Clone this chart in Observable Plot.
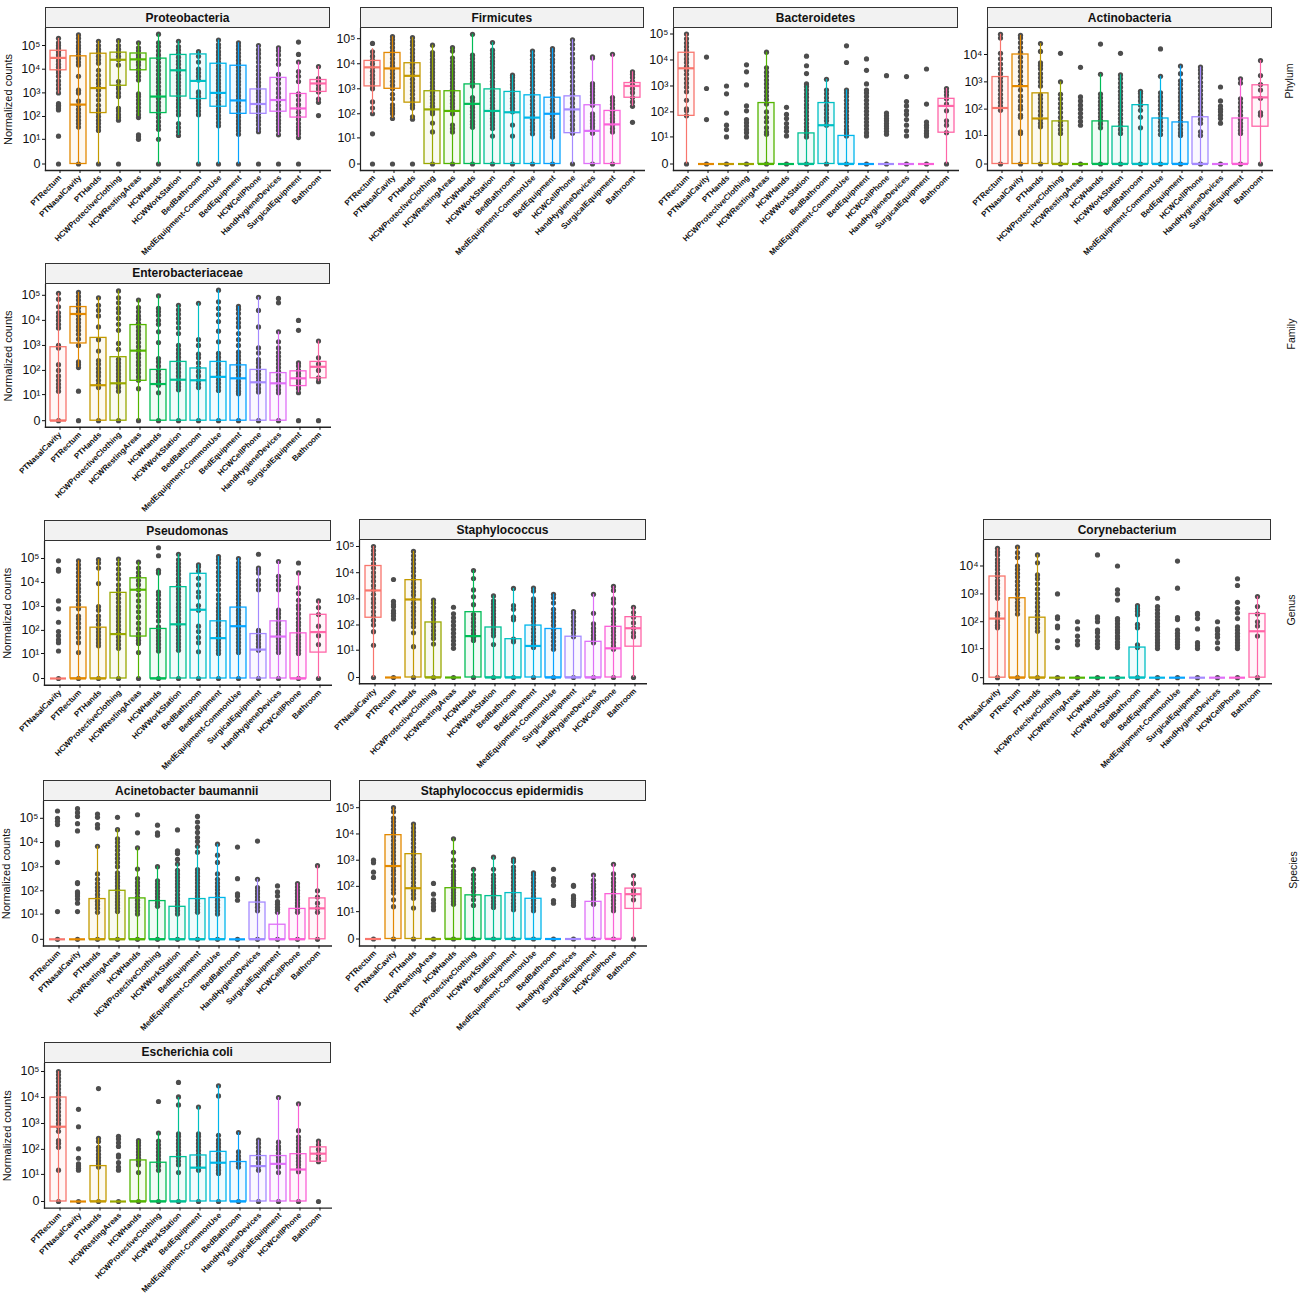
<!DOCTYPE html>
<html>
<head>
<meta charset="utf-8">
<script src="https://cdn.jsdelivr.net/npm/d3@7"></script>
<script src="https://cdn.jsdelivr.net/npm/@observablehq/plot@0.6"></script>
<style>
body { margin: 0; background: #fff; font-family: "Liberation Sans", sans-serif; }
#page { position: relative; width: 1300px; height: 1297px; overflow: hidden; }
.strip { position: absolute; box-sizing: border-box; background: #f2f2f2; border: 1px solid #333; font-weight: bold; font-size: 12px; color: #111; text-align: center; }
.rowlabel { position: absolute; transform: translate(-50%, -50%) rotate(-90deg); font-size: 10.5px; color: #111; }
#page svg { position: absolute; }
</style>
</head>
<body>
<div id="page"></div>
<script>
// sample types, in the three orders used across the panels
const orderPhylum = ["PTRectum","PTNasalCavity","PTHands","HCWProtectiveClothing","HCWRestingAreas","HCWHands","HCWWorkStation","BedBathroom","MedEquipment-CommonUse","BedEquipment","HCWCellPhone","HandHygieneDevices","SurgicalEquipment","Bathroom"];
const orderFamily = ["PTNasalCavity","PTRectum","PTHands","HCWProtectiveClothing","HCWRestingAreas","HCWHands","HCWWorkStation","BedBathroom","MedEquipment-CommonUse","BedEquipment","HCWCellPhone","HandHygieneDevices","SurgicalEquipment","Bathroom"];
const orderPseudomonas = ["PTNasalCavity","PTRectum","PTHands","HCWProtectiveClothing","HCWRestingAreas","HCWHands","HCWWorkStation","BedBathroom","BedEquipment","MedEquipment-CommonUse","SurgicalEquipment","HandHygieneDevices","HCWCellPhone","Bathroom"];
const orderAcinetobacter = ["PTRectum","PTNasalCavity","PTHands","HCWRestingAreas","HCWHands","HCWProtectiveClothing","HCWWorkStation","BedEquipment","MedEquipment-CommonUse","BedBathroom","HandHygieneDevices","SurgicalEquipment","HCWCellPhone","Bathroom"];

const hueColors = ["#F8766D","#E38900","#C49A00","#99A800","#53B400","#00BC56","#00C094","#00BFC4","#00B6EB","#06A4FF","#A58AFF","#DF70F8","#FB61D7","#FF66A8"];

const yTicks = [0,10,100,1000,10000,100000];
const yTickLabels = ["0","10¹","10²","10³","10⁴","10⁵"];

// Proteobacteria
const protLow = [900,0,0,70,100,0,15,0,0,0,20,15,12,400];
const protQ1 = [9000,0,140,2000,9000,140,700,550,260,130,130,160,90,1100];
const protMed = [30000,320,1600,25000,26000,700,9000,3200,1000,480,340,500,220,2500];
const protQ3 = [60000,35000,45000,50000,46000,28000,40000,42000,17000,14000,1400,4300,900,3500];
const protHigh = [200000,280000,150000,160000,130000,300000,150000,55000,170000,130000,100000,80000,20000,13000];
const protPoints = [
  [0,14,190,220,260,300,350,1000,1500,2200,3200,5000,7000,9000,12000,16000,22000,30000,40000,55000,75000,100000,130000,200000],
  [0,35,50,70,100,140,200,300,450,1000,1300,5000,15000,20000,28000,38000,55000,75000,100000,140000,200000,280000],
  [0,25,35,50,70,100,140,190,300,500,800,1300,1700,2500,3500,5500,9000,18000,25000,35000,50000,70000,100000,150000],
  [0,70,90,120,170,220,700,1000,1500,2000,3000,15000,25000,35000,50000,70000,100000,160000],
  [10,13,16,90,120,170,240,350,500,700,900,3500,5000,7000,10000,15000,20000,30000,40000,60000,80000,130000],
  [0,10,28,40,60,90,130,190,280,400,600,900,1300,1900,2800,4000,6000,9000,13000,19000,28000,40000,60000,90000,130000,300000],
  [15,22,33,50,120,170,250,350,500,700,1000,1400,2000,2800,4000,5600,8000,11000,16000,22000,32000,45000,65000,90000,150000],
  [0,120,170,240,340,480,700,1000,1100,3500,5000,7000,10000,20000,35000,55000],
  [0,40,55,80,110,160,220,320,450,650,900,1300,1800,2500,3500,5000,7000,10000,14000,20000,28000,40000,55000,80000,110000,170000],
  [0,17,24,33,48,66,95,130,190,270,380,540,760,1100,1500,2200,3000,4300,6100,8600,12000,17000,24000,34000,48000,68000,96000,130000],
  [0,22,30,45,65,90,130,180,250,350,500,700,1000,1400,2000,2800,4000,6000,9000,13000,20000,30000,45000,65000,100000],
  [0,16,25,35,50,70,100,140,200,300,450,650,1000,1500,2500,4000,6000,16000,25000,40000,60000,80000],
  [0,12,18,25,35,50,75,100,150,220,320,500,800,900,3000,5000,8000,20000,42000,140000],
  [110,400,550,1100,1500,2200,3000,4000,13000]
];

// Firmicutes
const firmLow = [100,65,60,0,0,0,0,0,0,0,0,0,0,200];
const firmQ1 = [1250,1000,280,0,0,0,0,0,0,0,16,0,0,440];
const firmMed = [7200,6500,3300,150,130,250,130,115,70,100,150,20,37,1300];
const firmQ3 = [13000,27000,10500,800,800,1500,950,750,550,440,500,220,130,1700];
const firmHigh = [40000,120000,110000,55000,44000,150000,70000,3500,32000,40000,90000,19000,24000,4800];
const firmPoints = [
  [0,15,100,170,300,1000,1300,1800,2500,3500,5000,7000,10000,14000,20000,30000,65000],
  [0,65,100,130,170,230,400,600,1000,1400,2000,2800,4000,5600,8000,11000,16000,23000,32000,45000,65000,90000,120000],
  [0,60,75,170,220,300,420,600,850,1200,1700,2400,3400,4800,6800,9600,14000,19000,27000,38000,55000,76000,110000],
  [0,18,42,100,120,150,200,270,370,500,700,950,1300,1800,2500,3400,4600,6300,8500,11500,15000,21000,28000,55000],
  [0,18,25,35,100,140,190,260,360,500,700,950,1300,1800,2500,3400,4600,6300,8500,12000,17000,32000,44000],
  [0,28,38,50,70,95,130,180,240,330,450,1300,1800,2500,3400,4600,6300,8500,11500,16000,22000,150000],
  [0,12,25,35,48,65,90,120,165,225,310,420,580,800,1100,1500,2000,2800,3800,5200,7100,9700,13000,18000,25000,35000,70000],
  [0,12,35,120,165,225,310,420,580,800,1100,1500,2100,2800,3500],
  [0,15,22,30,42,60,85,120,170,240,340,480,680,960,1400,1900,2700,3800,5400,7600,11000,15000,22000,32000],
  [0,11,15,21,30,42,60,85,120,170,240,340,480,680,960,1400,1900,2700,3800,5400,7600,11000,15000,22000,32000,40000],
  [0,16,24,36,55,80,120,180,270,400,600,900,1300,2000,3000,4500,7000,11000,16000,25000,40000,60000,90000],
  [0,16,22,30,40,55,75,100,220,300,400,550,750,1000,1300,1600,17000,19000],
  [0,18,25,35,48,65,90,125,170,240,330,450,24000],
  [45,200,300,450,700,1000,1400,2000,2800,3800,4800]
];

// Bacteroidetes
const bactLow = [0,0,0,0,0,0,0,0,0,0,0,0,0,0];
const bactQ1 = [70,0,0,0,0,0,0,0,0,0,0,0,0,15];
const bactMed = [4800,0,0,0,0,0,0,30,0,0,0,0,0,170];
const bactQ3 = [19000,0,0,0,220,0,14,220,11,0,0,0,0,320];
const bactHigh = [100000,0,0,0,20000,0,1000,1800,700,0,0,0,0,800];
const bactPoints = [
  [0,70,110,130,280,600,900,1300,1900,2800,4000,5600,8000,11000,16000,23000,32000,45000,65000,100000],
  [0,50,800,13000],
  [0,10,20,30,90,500,1000],
  [0,10,15,20,28,38,50,110,170,1100,3500,6500],
  [0,13,16,24,40,60,100,200,300,420,600,850,1200,1700,2400,3400,5000,20000],
  [0,11,17,24,35,55,80,150],
  [0,10,14,19,26,36,50,70,100,140,190,270,370,500,700,950,1200,3000,6000,14000],
  [0,30,45,60,85,120,170,250,350,500,700,1800],
  [0,11,15,20,28,40,55,75,105,145,200,280,390,540,700,8000,35000],
  [0,11,15,21,29,40,55,77,105,145,200,280,390,540,700,1200,4000,11000],
  [0,13,17,22,28,35,45,55,70,90,2500],
  [0,11,18,30,50,80,110,170,250,2300],
  [0,11,14,18,24,30,40,200,4500],
  [0,15,30,45,110,200,320,450,600,800]
];

// Actinobacteria
const actiLow = [0,0,0,0,0,0,0,0,0,0,0,0,0,0];
const actiQ1 = [0,0,0,0,0,0,0,0,0,0,0,0,0,22];
const actiMed = [110,700,45,0,0,0,0,0,0,0,0,0,0,270];
const actiQ3 = [1500,10000,380,35,0,35,22,140,45,32,50,0,45,750];
const actiHigh = [55000,50000,25000,1000,0,1900,1800,450,1600,3800,3500,0,1300,6000];
const actiPoints = [
  [0,90,130,180,250,350,500,700,1000,1400,2000,3000,4500,7000,11000,40000,55000],
  [0,12,14,50,60,100,130,200,300,500,750,1100,1600,2400,3600,5400,8000,12000,18000,27000,40000,50000],
  [0,22,30,42,60,85,120,170,240,330,700,1000,1400,2000,3000,4000,5000,13000,25000],
  [0,12,17,25,35,50,75,110,160,240,350,1000,11000],
  [0,25,35,50,70,100,140,200,280,3400],
  [0,20,28,38,52,72,100,140,190,260,360,1900,24000],
  [0,12,17,24,33,46,64,90,125,170,240,330,450,640,900,1300,1800,11000],
  [0,20,50,90,140,200,280,380,450],
  [0,11,16,23,33,47,68,98,140,200,280,400,1600,16000],
  [0,10,13,18,25,35,50,70,100,140,200,280,400,560,800,1100,2000,3800],
  [0,10,14,30,42,60,85,120,170,240,340,480,680,960,1400,2000,2700,3500],
  [0,30,45,60,80,100,130,200,650],
  [0,12,16,22,30,42,60,85,120,170,240,900,1300],
  [0,60,75,250,500,800,1700,6000]
];

// Enterobacteriaceae
const enteLow = [0,130,0,0,0,0,0,0,0,0,0,0,12,35];
const enteQ1 = [0,1200,0,0,38,0,0,0,0,0,0,0,23,48];
const enteMed = [0,18000,25,30,620,28,42,40,55,48,33,30,48,140];
const enteQ3 = [850,34000,2000,340,6500,105,220,120,220,160,105,78,92,220];
const enteHigh = [120000,130000,80000,150000,65000,95000,40000,48000,160000,36000,83000,3500,200,1500];
const entePoints = [
  [0,14,20,28,40,60,100,170,800,1000,5000,7000,10000,14000,20000,35000,70000,120000],
  [0,14,130,170,220,1000,1800,2800,4000,5600,8000,11000,16000,22000,32000,45000,65000,90000,130000],
  [0,20,28,40,60,85,120,180,250,600,1700,5500,15000,25000,40000,80000],
  [0,14,20,28,40,55,75,105,145,200,280,700,1200,4000,7000,12000,20000,30000,50000,80000,150000],
  [0,18,40,55,80,110,160,220,320,450,640,900,1300,1900,2700,3800,5400,7600,11000,15000,22000,32000,65000],
  [0,12,25,35,50,70,100,150,220,300,1300,3500,7000,10000,16000,22000,30000,95000],
  [0,16,22,30,42,60,85,120,170,240,340,480,680,1000,3000,5000,8000,12000,18000,26000,40000],
  [0,20,28,40,60,90,130,200,320,450,1000,1700,48000],
  [0,15,21,30,42,60,85,120,170,240,340,480,1400,3700,9000,17000,30000,55000,160000],
  [0,11,14,19,26,36,50,70,100,140,190,270,380,540,1000,1700,3000,5500,8000,12000,19000,28000,36000],
  [0,13,18,26,36,50,70,100,140,200,270,500,800,5500,25000,83000],
  [0,12,16,23,33,46,65,92,130,185,260,370,520,800,1400,3500,50000,75000],
  [0,12,18,24,32,42,55,75,100,150,200,4000,10000],
  [0,35,50,100,180,320,1500]
];

// Pseudomonas
const pseuLow = [0,0,0,0,0,0,0,0,0,0,0,0,0,0];
const pseuQ1 = [0,0,0,0,55,0,0,0,0,0,0,0,0,11];
const pseuMed = [0,0,0,70,5000,0,180,730,47,150,15,55,0,85];
const pseuQ3 = [0,900,130,3700,15000,115,6400,23000,240,900,70,240,75,450];
const pseuHigh = [0,80000,90000,95000,70000,32000,150000,55000,120000,100000,40000,75000,25000,1700];
const pseuPoints = [
  [0,13,30,40,60,90,220,800,1700,30000,35000,80000],
  [0,11,30,50,80,130,200,300,400,800,1200,1800,2600,4000,5600,8000,12000,18000,26000,38000,55000,80000],
  [0,22,30,42,60,85,120,180,270,400,700,1000,9000,40000,65000,90000],
  [0,17,25,36,52,75,110,160,230,330,480,700,1000,1500,2200,3200,5000,8000,14000,22000,36000,60000,95000],
  [0,11,28,38,52,72,120,200,350,600,1000,1700,3000,5000,8000,12000,18000,26000,40000,70000],
  [0,13,18,26,36,50,70,100,140,250,400,600,900,1300,2000,3000,4000,25000,32000,130000,280000],
  [0,14,20,28,40,56,80,110,160,230,320,460,650,920,1300,1900,2700,3800,5400,7600,11000,15000,22000,31000,44000,62000,88000,150000],
  [0,12,30,50,90,150,700,1100,2500,4000,8000,15000,30000,45000,55000],
  [0,10,14,20,28,40,55,78,110,160,220,310,440,620,880,1300,2000,3000,5000,8000,12000,18000,27000,42000,65000,90000,120000],
  [0,11,15,22,31,44,62,88,125,175,250,350,500,700,1000,1400,2000,2800,4000,5600,8000,11000,16000,23000,32000,45000,65000,100000],
  [0,14,20,28,40,55,75,100,5000,8000,12000,25000,35000,40000,150000],
  [0,11,16,22,32,45,62,88,125,175,240,350,500,700,5000,8000,12000,18000,75000],
  [0,10,14,20,28,40,55,78,110,160,220,320,500,800,1100,1800,3500,6000,25000,65000],
  [0,25,60,150,460,900,1700]
];

// Staphylococcus
const stapLow = [0,0,0,0,0,0,0,0,0,0,0,0,0,0];
const stapQ1 = [190,0,0,0,0,0,0,0,0,0,0,0,0,14];
const stapMed = [2100,0,950,0,0,37,0,0,15,0,0,0,12,75];
const stapQ3 = [18000,0,5200,125,0,310,80,28,95,70,35,22,85,200];
const stapHigh = [100000,0,65000,900,0,12000,1300,2500,2600,1500,330,1500,3000,480];
const stapPoints = [
  [0,16,55,100,150,220,320,480,700,1000,1500,2200,3200,4800,7000,10000,15000,22000,33000,50000,70000,100000],
  [0,170,220,280,350,500,600,800,5500],
  [0,14,50,85,120,170,240,340,480,680,960,1400,1900,2700,3800,5400,7600,11000,15000,22000,31000,44000,65000],
  [0,18,30,42,60,85,120,170,240,340,480,680,900],
  [0,12,17,24,34,48,68,96,135,190,270,480],
  [0,25,33,46,64,90,125,175,250,600,1200,2200,6000,12000],
  [0,17,38,50,65,85,115,150,200,270,360,480,640,850,1300],
  [0,22,28,160,200,400,550,2500],
  [0,13,18,25,35,50,70,100,140,190,270,380,540,760,1000,2000,2600],
  [0,11,16,23,33,47,68,98,140,200,280,400,700,1100,1500],
  [0,35,50,70,100,140,200,280,330],
  [0,20,24,30,40,55,75,110,280,1500],
  [0,11,15,21,29,40,55,75,100,140,190,270,380,700,1000,2100,3000],
  [0,35,50,75,120,200,300,480]
];

// Corynebacterium
const coryLow = [0,0,0,0,0,0,0,0,0,0,0,0,0,0];
const coryQ1 = [0,0,0,0,0,0,0,0,0,0,0,0,0,0];
const coryMed = [130,0,0,0,0,0,0,0,0,0,0,0,0,45];
const coryQ3 = [4200,700,140,0,0,0,0,11,0,0,0,0,0,190];
const coryHigh = [43000,48000,25000,0,0,0,0,380,0,0,0,0,0,800];
const coryPoints = [
  [0,60,75,100,130,170,200,700,1000,1300,1700,2300,3000,4200,5500,7500,10000,13000,17000,25000,32000,43000],
  [0,190,270,370,500,700,1000,1400,2000,2800,4000,5500,7500,10000,20000,30000,48000],
  [0,45,60,85,120,170,240,340,480,680,1000,1500,2300,3500,4800,13000,25000],
  [0,11,20,60,70,130,150,1000],
  [0,14,20,30,55,100],
  [0,11,15,20,28,40,50,100,130,150,25000],
  [0,11,14,18,24,30,40,50,65,85,110,130,600,1000,1400,10000],
  [0,11,14,60,80,180,240,300,380],
  [0,10,13,17,22,29,38,50,66,87,115,150,200,270,350,700],
  [0,11,14,18,23,30,38,50,120,140,1600,15000],
  [0,10,13,17,55,130,180,200],
  [0,10,17,27,35,47,55,100],
  [0,10,13,17,22,29,38,50,65,130,210,300,500,2000,3500],
  [0,30,70,100,190,350,800]
];

// Acinetobacter baumannii
const acinLow = [0,0,0,0,0,0,0,0,0,0,0,0,0,0];
const acinQ1 = [0,0,0,0,0,0,0,0,0,0,0,0,0,0];
const acinMed = [0,0,0,0,0,0,0,0,0,0,0,0,0,18];
const acinQ3 = [0,0,45,100,48,37,21,45,50,0,32,3,17,48];
const acinHigh = [0,0,7000,35000,6000,1000,1300,7000,8500,0,300,12,200,1100];
const acinPoints = [
  [0,13,1500,8000,10000,55000,75000,100000,200000],
  [0,13,30,45,60,75,90,200,220,30000,60000,120000,170000,250000],
  [0,12,18,26,36,50,70,100,140,200,300,500,7000,40000,55000,110000,150000],
  [0,13,18,25,34,46,62,85,115,160,220,300,400,550,1000,1500,2200,3200,4800,7000,10000,14000,34000,110000],
  [0,10,14,20,28,40,55,80,110,160,220,320,800,6000,25000,140000],
  [0,22,30,40,55,75,100,140,190,260,1000,20000,25000,52000],
  [0,10,14,19,26,36,50,70,100,140,190,260,360,500,700,1300,2000,3500,4500,33000],
  [0,12,16,22,30,42,58,80,110,150,210,290,400,550,750,4000,7000,11000,16000,26000,42000,70000,120000],
  [0,10,14,20,28,40,55,78,110,150,210,300,500,1500,3000,8500],
  [0,40,60,75,320,6500],
  [0,14,20,28,40,55,75,100,135,300,11500],
  [0,12,16,20,27,35,60,90,160],
  [0,12,17,23,31,42,57,78,105,145,200],
  [0,12,18,30,55,100,1100]
];

// Staphylococcus epidermidis
const sepiLow = [0,0,0,0,0,0,0,0,0,0,0,0,0,0];
const sepiQ1 = [0,0,0,0,0,0,0,0,0,0,0,0,0,13];
const sepiMed = [0,600,85,0,0,0,0,0,0,0,0,0,0,50];
const sepiQ3 = [0,9000,1700,0,85,45,42,55,33,0,0,25,50,82];
const sepiHigh = [0,100000,24000,0,6500,450,1300,1100,330,0,0,270,700,260];
const sepiPoints = [
  [0,220,350,800,1000],
  [0,16,30,55,75,105,150,200,290,400,550,770,1100,1500,2100,2900,4000,5600,7800,11000,15000,21000,29000,40000,70000,100000],
  [0,14,35,50,70,100,140,200,280,400,560,800,1100,1600,2200,3100,4400,6200,8700,12000,17000,24000],
  [0,12,16,22,30,50,130],
  [0,20,26,34,44,58,75,100,130,170,220,290,380,600,1000,2000,6500],
  [0,18,30,45,65,90,130,190,270,450],
  [0,15,20,27,36,48,64,85,110,150,200,270,450,1300],
  [0,12,16,22,30,42,58,80,110,150,210,290,400,550,900,1100],
  [0,11,15,21,29,40,55,75,105,145,200,270,330],
  [0,22,28,110,160,200,450],
  [0,18,23,29,35,43,100,110],
  [0,20,27,35,48,65,90,120,170,270],
  [0,11,15,21,29,40,55,75,105,145,200,300,700],
  [0,30,50,70,130,260]
];

// Escherichia coli
const ecolLow = [0,0,0,0,0,0,0,0,0,0,0,0,0,30];
const ecolQ1 = [0,0,0,0,0,0,0,0,0,0,0,0,0,33];
const ecolMed = [750,0,0,0,0,0,0,19,30,0,22,27,16,68];
const ecolQ3 = [10000,0,22,0,37,30,50,58,80,32,55,55,65,120];
const ecolHigh = [100000,0,270,0,220,430,10000,4300,28000,450,230,10000,5700,210];
const ecolPoints = [
  [0,15,120,170,220,500,750,1000,1400,2000,2800,4000,5600,7800,11000,15000,21000,29000,40000,55000,75000,100000],
  [0,15,18,22,27,45,105,750,3500],
  [0,20,27,36,48,65,90,120,200,270,22000],
  [0,15,20,30,50,60,130,180,250,320],
  [0,12,25,35,45,60,80,105,140,180,220],
  [0,15,22,30,42,58,80,110,150,210,430,7000],
  [0,12,25,35,48,65,90,125,170,230,320,400,5200,10500,38000],
  [0,15,20,27,36,48,65,90,125,170,230,320,400,4300],
  [0,11,15,20,27,36,48,65,90,125,170,230,350,11500,28000],
  [0,20,28,40,55,80,450],
  [0,15,22,30,45,60,85,120,170,230],
  [0,12,20,27,36,50,70,100,130,190,10000],
  [0,13,18,25,34,46,62,85,115,160,220,300,530,5700],
  [0,33,45,65,100,150,210]
];

// panel placement on the page, kept apart from the values
const layout = [
  {title:"Proteobacteria", order:orderPhylum, low:protLow, q1:protQ1, med:protMed, q3:protQ3, high:protHigh, points:protPoints, left:45, right:330, stripTop:6.5, stripBottom:27.5, axisY:169.5, zeroY:163, topY:44.5, topTick:1e5, yTitle:true},
  {title:"Firmicutes", order:orderPhylum, low:firmLow, q1:firmQ1, med:firmMed, q3:firmQ3, high:firmHigh, points:firmPoints, left:359.5, right:644, stripTop:6.5, stripBottom:27.5, axisY:169.5, zeroY:163, topY:37.7, topTick:1e5},
  {title:"Bacteroidetes", order:orderPhylum, low:bactLow, q1:bactQ1, med:bactMed, q3:bactQ3, high:bactHigh, points:bactPoints, left:673, right:958, stripTop:6.5, stripBottom:27.5, axisY:169.5, zeroY:163, topY:33, topTick:1e5},
  {title:"Actinobacteria", order:orderPhylum, low:actiLow, q1:actiQ1, med:actiMed, q3:actiQ3, high:actiHigh, points:actiPoints, left:987, right:1272, stripTop:6.5, stripBottom:27.5, axisY:169.5, zeroY:163, topY:53.5, topTick:1e4},
  {title:"Enterobacteriaceae", order:orderFamily, low:enteLow, q1:enteQ1, med:enteMed, q3:enteQ3, high:enteHigh, points:entePoints, left:45, right:330, stripTop:263, stripBottom:283.5, axisY:426.3, zeroY:419.7, topY:294.3, topTick:1e5, yTitle:true},
  {title:"Pseudomonas", order:orderPseudomonas, low:pseuLow, q1:pseuQ1, med:pseuMed, q3:pseuQ3, high:pseuHigh, points:pseuPoints, left:43.5, right:331, stripTop:520, stripBottom:541, axisY:684.7, zeroY:678, topY:558, topTick:1e5, yTitle:true},
  {title:"Staphylococcus", order:orderPseudomonas, low:stapLow, q1:stapQ1, med:stapMed, q3:stapQ3, high:stapHigh, points:stapPoints, left:359, right:646, stripTop:519, stripBottom:540, axisY:683.3, zeroY:677, topY:546, topTick:1e5},
  {title:"Corynebacterium", order:orderPseudomonas, low:coryLow, q1:coryQ1, med:coryMed, q3:coryQ3, high:coryHigh, points:coryPoints, left:983, right:1271, stripTop:518.5, stripBottom:539.5, axisY:682.7, zeroY:676.7, topY:565, topTick:1e4},
  {title:"Acinetobacter baumannii", order:orderAcinetobacter, low:acinLow, q1:acinQ1, med:acinMed, q3:acinQ3, high:acinHigh, points:acinPoints, left:42.5, right:331, stripTop:779.5, stripBottom:800.5, axisY:945, zeroY:938.3, topY:817.3, topTick:1e5, yTitle:true},
  {title:"Staphylococcus epidermidis", order:orderAcinetobacter, low:sepiLow, q1:sepiQ1, med:sepiMed, q3:sepiQ3, high:sepiHigh, points:sepiPoints, left:358.5, right:645.5, stripTop:779.5, stripBottom:800.5, axisY:945, zeroY:938, topY:806.7, topTick:1e5},
  {title:"Escherichia coli", order:orderAcinetobacter, low:ecolLow, q1:ecolQ1, med:ecolMed, q3:ecolQ3, high:ecolHigh, points:ecolPoints, left:43.5, right:331, stripTop:1042, stripBottom:1062.7, axisY:1207.3, zeroY:1200.7, topY:1070.7, topTick:1e5, yTitle:true}
];

const rowLabels = [
  {text:"Phylum", x:1289, y:81},
  {text:"Family", x:1291, y:334},
  {text:"Genus", x:1291, y:610},
  {text:"Species", x:1293, y:870}
];

const page = document.getElementById("page");

function drawPanel(p) {
  const marginLeft = 44, marginRight = 1, marginBottom = 100;
  const svgTop = p.stripBottom - 1;
  const height = p.axisY - svgTop + marginBottom;

  const rows = p.order.map((category, i) => ({category, low:p.low[i], q1:p.q1[i], med:p.med[i], q3:p.q3[i], high:p.high[i]}));
  const dots = p.order.flatMap((category, i) => p.points[i].map(value => ({category, value})));
  const ticks = yTicks.filter(t => t <= p.topTick);

  const chart = Plot.plot({
    width: p.right - p.left + marginLeft + marginRight,
    height,
    marginLeft, marginRight, marginBottom, marginTop: 1,
    style: {fontFamily: '"Liberation Sans", sans-serif', background: "transparent", color: "#111"},
    x: {type: "band", domain: p.order, paddingInner: 0.22, paddingOuter: 0.21, label: null},
    y: {type: "symlog", constant: 1, domain: [0, p.topTick], range: [p.zeroY - svgTop, p.topY - svgTop], label: null},
    color: {domain: p.order, range: hueColors},
    marks: [
      Plot.dot(dots, {x: "category", y: "value", r: 2.6, fill: "#4d4d4d"}),
      Plot.ruleX(rows, {x: "category", y1: "low", y2: "high", stroke: "category", strokeWidth: 1.2}),
      Plot.barY(rows, {x: "category", y1: "q1", y2: "q3", fill: "category", fillOpacity: 0.06, stroke: "category", strokeWidth: 1.3}),
      Plot.tickY(rows, {x: "category", y: "med", stroke: "category", strokeWidth: 2.2}),
      Plot.frame({anchor: "left", stroke: "#222", strokeWidth: 1.2}),
      Plot.frame({anchor: "bottom", stroke: "#222", strokeWidth: 1.4}),
      Plot.axisY({ticks, tickFormat: d => yTickLabels[yTicks.indexOf(d)], tickSize: 3, tickPadding: 2, fontSize: 12.5, label: null}),
      p.yTitle ? Plot.axisY({ticks: [], tickSize: 0, fontSize: 11, label: "Normalized counts", labelAnchor: "center", labelArrow: "none", labelOffset: 41}) : null,
      Plot.axisX({tickRotate: -45, tickSize: 3, tickPadding: 3, fontSize: 8, fontWeight: "bold", dx: 1.5, label: null})
    ]
  });
  chart.style.left = (p.left - marginLeft) + "px";
  chart.style.top = svgTop + "px";
  page.appendChild(chart);

  const strip = document.createElement("div");
  strip.className = "strip";
  strip.textContent = p.title;
  strip.style.left = p.left + "px";
  strip.style.width = (p.right - p.left) + "px";
  strip.style.top = p.stripTop + "px";
  strip.style.height = (p.stripBottom - p.stripTop) + "px";
  strip.style.lineHeight = (p.stripBottom - p.stripTop - 1) + "px";
  page.appendChild(strip);
}

layout.forEach(drawPanel);

rowLabels.forEach(r => {
  const el = document.createElement("div");
  el.className = "rowlabel";
  el.textContent = r.text;
  el.style.left = r.x + "px";
  el.style.top = r.y + "px";
  page.appendChild(el);
});
</script>
</body>
</html>
